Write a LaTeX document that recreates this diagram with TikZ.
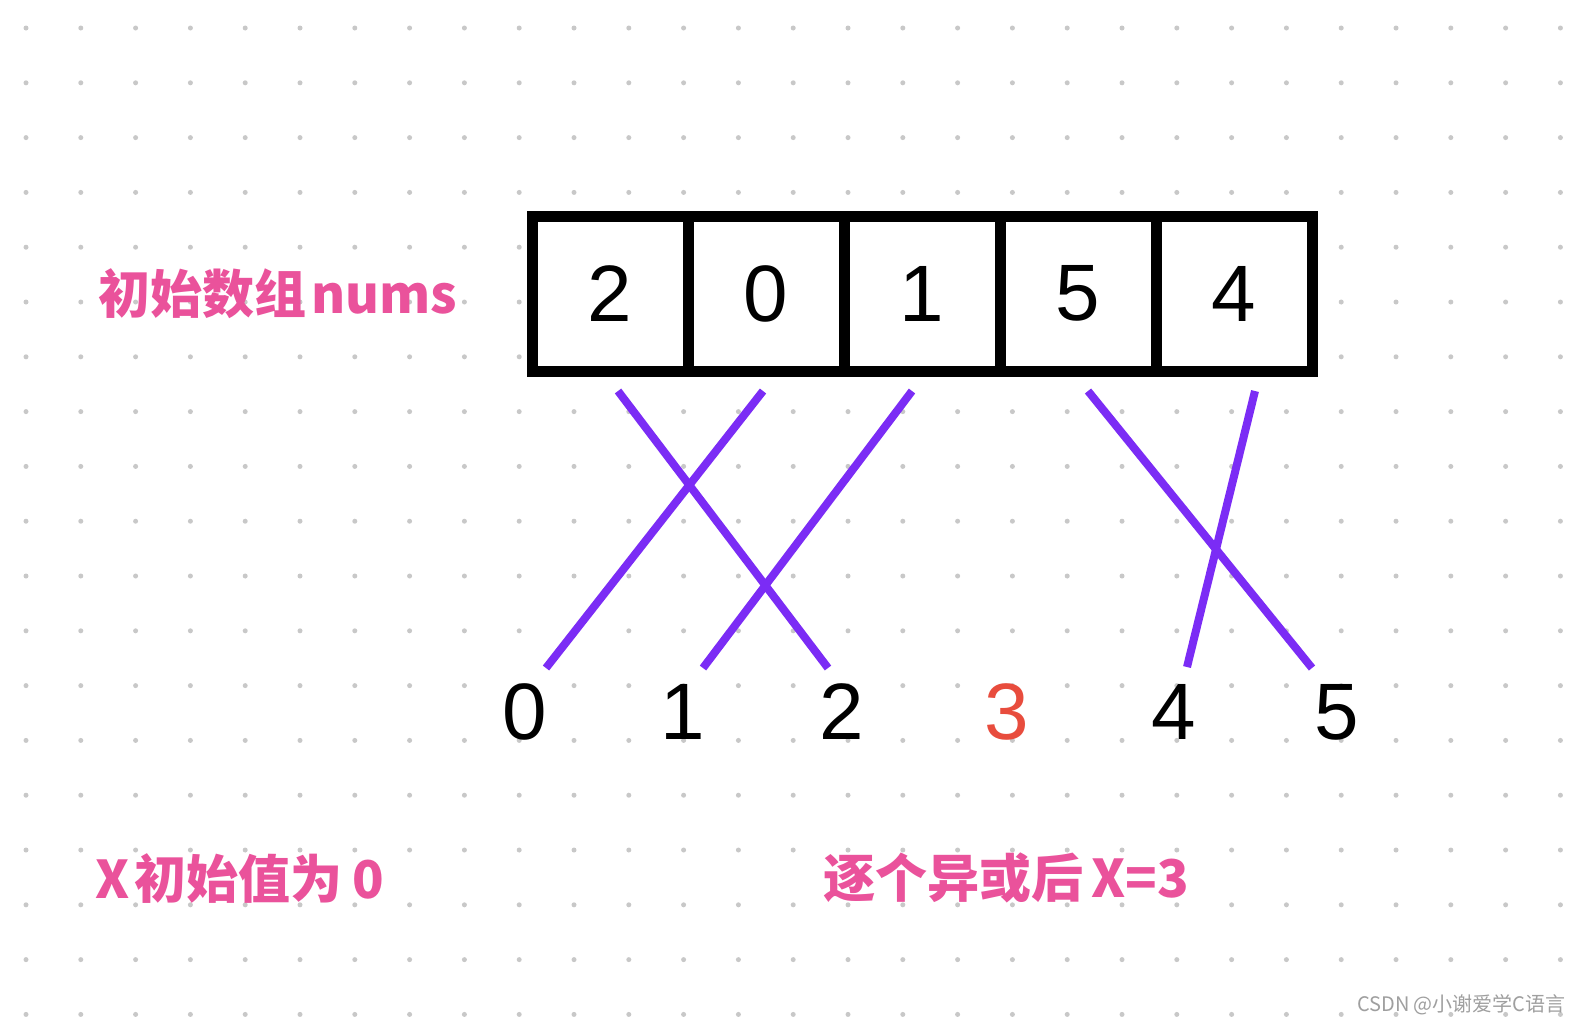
\documentclass[tikz,border=0pt]{standalone}
\usepackage{fontspec}
\setmainfont{Liberation Sans}
\newfontfamily\cjk{Noto Sans CJK SC}
\definecolor{xorpurple}{RGB}{123,44,245}
\definecolor{labelpink}{RGB}{234,82,155}
\definecolor{resultred}{RGB}{232,76,61}
\definecolor{dotgray}{RGB}{200,200,200}

\begin{document}
\begin{tikzpicture}[x=0.5pt,y=-0.5pt,
    cell/.style={draw,line width=5.5pt,fill=white,minimum width=78pt,minimum height=77.5pt,inner sep=0pt,font=\fontsize{40}{40}\selectfont},
    num/.style={inner sep=0pt,font=\fontsize{40}{40}\selectfont},
    pinklabel/.style={anchor=west,inner sep=0pt,text=labelpink,font=\cjk\bfseries\fontsize{26}{26}\selectfont},
    xorline/.style={xorpurple,line width=4pt}]
    \useasboundingbox (0,0) rectangle (1583,1025);
    \fill[white] (0,0) rectangle (1583,1025);
    % dot grid
    \foreach \i in {0,...,28}
        \foreach \j in {0,...,18}
            \fill[dotgray] ({26+54.8*\i},{28+54.8*\j}) circle (1.25pt);
    % array cells
    \foreach \v [count=\i] in {2,0,1,5,4}
        \node[cell] (c\i) at ({454+156*\i},293.5) {\v};
    % numbers 0..5
    \foreach \v/\x in {0/525,1/683,2/842,4/1174,5/1337}
        \node[num] (b\v) at (\x,712) {\v};
    \node[num,text=resultred] (b3) at (1007,712) {3};
    % line ends
    \coordinate (t1) at (618,391);
    \coordinate (t2) at (763,391);
    \coordinate (t3) at (912,391);
    \coordinate (t4) at (1088,391);
    \coordinate (t5) at (1255,391);
    \coordinate (e0) at (546,668);
    \coordinate (e1) at (703,668);
    \coordinate (e2) at (828,668);
    \coordinate (e4) at (1187,667);
    \coordinate (e5) at (1312,668);
    \draw[xorline] (t1) -- (e2);
    \draw[xorline] (t2) -- (e0);
    \draw[xorline] (t3) -- (e1);
    \draw[xorline] (t4) -- (e5);
    \draw[xorline] (t5) -- (e4);
    % labels
    \node[pinklabel] (arr) at (98,294) {初始数组\kern2.5pt nums};
    \node[pinklabel] (init) at (95,879) {X\kern2.5pt 初始值为\kern5pt 0};
    \node[pinklabel] (res) at (823,878) {逐个异或后\kern4pt X=3};
    \node[anchor=east,inner sep=0pt,text=gray!75,font=\cjk\fontsize{10}{10}\selectfont] (wm) at (1566,1005) {CSDN @小谢爱学C语言};
\end{tikzpicture}
\end{document}
